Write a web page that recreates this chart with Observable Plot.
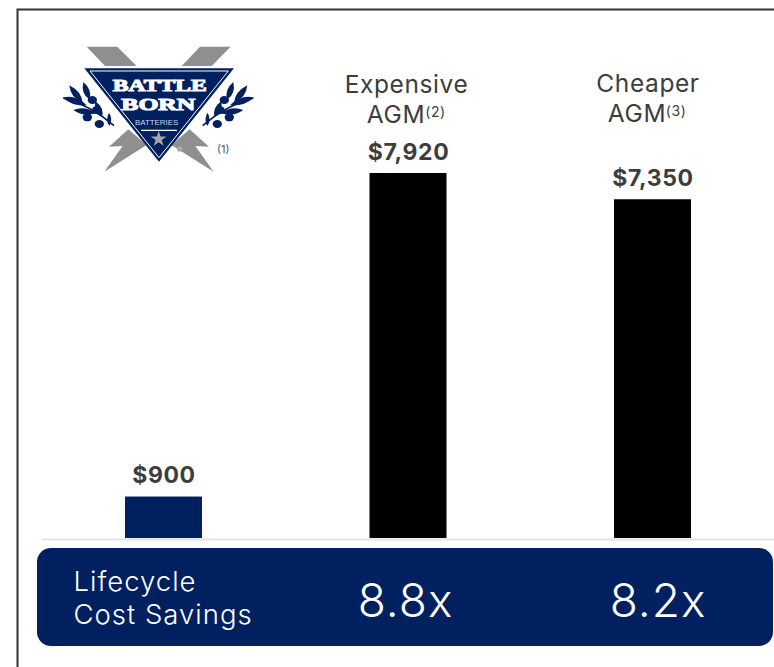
<!DOCTYPE html>
<html>
<head>
<meta charset="utf-8">
<style>
  html, body { margin: 0; padding: 0; background: #fff; }
  svg { display: block; }
  svg text.wide { letter-spacing: 0.6px; }
  svg text.wider { letter-spacing: 1px; }
</style>
<script src="https://cdn.jsdelivr.net/npm/d3@7"></script>
<script src="https://cdn.jsdelivr.net/npm/@observablehq/plot@0.6"></script>
</head>
<body>
<div id="chart"></div>
<script>
// Lifecycle cost per product
const products = ["Battle Born", "Expensive AGM", "Cheaper AGM"];
const lifecycleCost = [900, 7920, 7350];
const costSavings = [null, "8.8x", "8.2x"];

const navy = "#002060";
const ink = "#3d3d3d";
const family = "Inter, 'Noto Sans', sans-serif";

const bars = products.map((name, i) => ({name, cost: lifecycleCost[i]}));

// One line of text placed under the top of the frame, at a given baseline.
function line(name, text, baseline, size, dx = 0, fill = ink, weight = 400) {
  return Plot.text([{name, text}], {
    x: "name",
    text: "text",
    frameAnchor: "top",
    lineAnchor: "bottom",
    dy: baseline,
    dx,
    fontSize: size,
    fontWeight: weight,
    fill
  });
}

function leftLine(text, baseline) {
  return Plot.text([text], {
    frameAnchor: "top-left",
    textAnchor: "start",
    lineAnchor: "bottom",
    dx: 31,
    dy: baseline,
    fontSize: 27.5,
    fontWeight: 300,
    fill: "#fff"
  });
}

const chart = Plot.plot({
  width: 774,
  height: 667,
  marginLeft: 42,
  marginRight: 0,
  marginTop: 0,
  marginBottom: 0,
  style: {fontFamily: family, background: "transparent"},
  x: {type: "band", domain: products, range: [-42.5, 858.5], padding: 0.685, round: false, axis: null},
  y: {domain: [0, 7920], range: [538, 173], axis: null},
  marks: [
    Plot.ruleY([0], {stroke: "#e4e4e4", strokeWidth: 2, dy: 1}),
    Plot.barY(bars, {
      x: "name",
      y: "cost",
      fill: (d) => (d.name === "Battle Born" ? navy : "#000")
    }),
    Plot.text(bars, {
      x: "name",
      y: "cost",
      text: (d) => "$" + d3.format(",")(d.cost),
      lineAnchor: "bottom",
      dy: -14,
      fontSize: 23,
      fontWeight: 700,
      fill: ink
    }),
    line("Expensive AGM", "Expensive", 92, 24.5, -2),
    line("Expensive AGM", "AGM", 122, 24.5, -12.5),
    line("Expensive AGM", "(2)", 116, 14, 27),
    line("Cheaper AGM", "Cheaper", 91, 24.5, -5),
    line("Cheaper AGM", "AGM", 121, 24.5, -16),
    line("Cheaper AGM", "(3)", 115, 14, 23),
    leftLine("Lifecycle", 590),
    leftLine("Cost Savings", 623),
    line("Expensive AGM", costSavings[1], 616, 46, -3, "#fff", 300),
    line("Cheaper AGM", costSavings[2], 616, 46, 5, "#fff", 300)
  ]
});

const svg = d3.select(chart);

// Spread the lettering a little: body copy slightly, the savings band more.
svg.selectAll("g[aria-label='text'] text").each(function () {
  const size = parseFloat(this.parentNode.getAttribute("font-size")) || 0;
  this.classList.add(size > 25 ? "wider" : "wide");
});

// Slide frame and savings band sit behind everything the plot drew.
const back = svg.insert("g", ":first-child");
back.append("rect").attr("width", 774).attr("height", 667).attr("fill", "#fff");
back.append("path")
  .attr("d", "M774,9.5H17.5V667")
  .attr("fill", "none")
  .attr("stroke", "#333")
  .attr("stroke-width", 2);
back.append("rect")
  .attr("x", 37).attr("y", 548)
  .attr("width", 736).attr("height", 98)
  .attr("rx", 14)
  .attr("fill", navy);

// Battle Born badge, laid out on a 3x grid.
const logo = svg.append("g").attr("transform", "translate(40,30) scale(0.3333)");
const grey = "#8f8f8f";
const bolts = [
  "M140,50H232L290,108H195Z",
  "M480,50H572L515,108H425Z",
  "M265,298L207,350L248,348L193,425L320,345Z",
  "M449,298L507,350L466,348L521,425L394,345Z"
];
logo.selectAll(".bolt").data(bolts).join("path")
  .attr("d", (d) => d).attr("fill", grey);
logo.append("path").attr("d", "M133,115H582L357,395Z").attr("fill", navy);
logo.append("path")
  .attr("d", "M150,123H565L357,383Z")
  .attr("fill", "none").attr("stroke", "#fff").attr("stroke-width", 3);
logo.append("path")
  .attr("d", "M303,301H411").attr("stroke", "#fff").attr("stroke-width", 4);
logo.append("path")
  .attr("d", d3.symbol(d3.symbolStar, 700)())
  .attr("transform", "translate(356,327)")
  .attr("fill", "#a8a8a8");

const wordmark = [
  {text: "BATTLE", y: 182, width: 282, x: 359},
  {text: "BORN", y: 240, width: 222, x: 355}
];
logo.selectAll(".word").data(wordmark).join("text")
  .attr("x", (d) => d.x).attr("y", (d) => d.y)
  .attr("text-anchor", "middle")
  .attr("font-family", "'Liberation Serif', serif")
  .attr("font-weight", 700)
  .attr("font-size", 49)
  .attr("textLength", (d) => d.width)
  .attr("lengthAdjust", "spacingAndGlyphs")
  .attr("fill", "#fff")
  .attr("stroke", "#fff")
  .attr("stroke-width", 3)
  .text((d) => d.text);
logo.append("text")
  .attr("x", 350).attr("y", 284)
  .attr("text-anchor", "middle")
  .attr("font-family", "'Liberation Sans', sans-serif")
  .attr("font-size", 20)
  .attr("textLength", 130)
  .attr("lengthAdjust", "spacingAndGlyphs")
  .attr("fill", "#cfd4e2")
  .text("BATTERIES");
logo.append("circle")
  .attr("cx", 419).attr("cy", 357).attr("r", 8).attr("fill", "#a8a8a8");
logo.append("text")
  .attr("x", 550).attr("y", 370)
  .attr("text-anchor", "middle")
  .attr("font-family", family)
  .attr("font-size", 33)
  .attr("fill", "#555")
  .text("(1)");

// Olive sprigs either side of the badge; the right one is a mirror of the left.
const sprigLeaves = [
  "M68,203Q105,192 140,226Q100,230 68,203Z",
  "M88,166Q125,185 128,218Q92,205 88,166Z",
  "M130,156Q158,180 148,208Q122,192 130,156Z",
  "M100,240Q135,226 168,250Q130,262 100,240Z",
  "M165,212Q195,235 186,262Q162,245 165,212Z",
  "M207,248Q220,268 208,288Q195,270 207,248Z"
];
const sprigBerries = [[157,210], [142,262], [178,282], [170,240]];
for (const mirror of [false, true]) {
  const sprig = logo.append("g")
    .attr("transform", mirror ? "translate(710,0) scale(-1,1)" : null);
  sprig.append("path")
    .attr("d", "M70,204Q150,225 222,287")
    .attr("fill", "none").attr("stroke", navy).attr("stroke-width", 5);
  sprig.selectAll(".leaf").data(sprigLeaves).join("path")
    .attr("d", (d) => d).attr("fill", navy);
  sprig.selectAll(".berry").data(sprigBerries).join("ellipse")
    .attr("cx", (d) => d[0]).attr("cy", (d) => d[1])
    .attr("rx", 14).attr("ry", 12).attr("fill", navy);
}

document.getElementById("chart").append(chart);
</script>
</body>
</html>
